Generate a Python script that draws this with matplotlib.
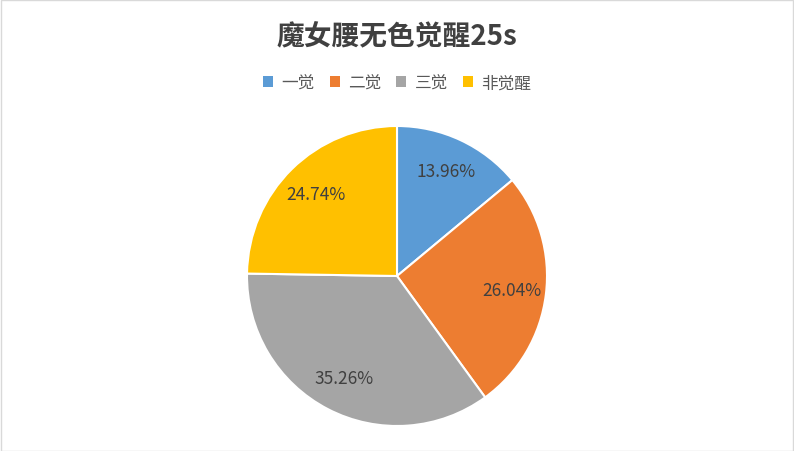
import matplotlib
matplotlib.use('Agg')
import matplotlib.pyplot as plt
from matplotlib.patches import Rectangle, Patch

plt.rcParams['font.family'] = ['Noto Sans CJK SC', 'DejaVu Sans']

title = '魔女腰无色觉醒25s'
labels = ['一觉', '二觉', '三觉', '非觉醒']
values = [13.96, 26.04, 35.26, 24.74]
colors = ['#5b9bd5', '#ed7d31', '#a5a5a5', '#ffc000']

W, H = 794, 452
fig = plt.figure(figsize=(W / 100, H / 100), dpi=100)

# chart border like Excel
fig.patches.append(Rectangle((0.5 / W, 0.5 / H), 1 - 1.5 / W, 1 - 1.5 / H,
                             transform=fig.transFigure, fill=False,
                             edgecolor='#d9d9d9', linewidth=1))

cx, cy, r = 397, 277, 150
ax = fig.add_axes([(cx - r) / W, 1 - (cy + r) / H, 2 * r / W, 2 * r / H])
wedges, texts, autotexts = ax.pie(values, colors=colors, startangle=90, counterclock=False,
                                  autopct=lambda p: f'{p:.2f}%', pctdistance=0.77,
                                  wedgeprops=dict(edgecolor='white', linewidth=1.5))
for t in autotexts:
    t.set_color('#404040')
    t.set_fontsize(12.5)
ax.set_xlim(-1, 1)
ax.set_ylim(-1, 1)
ax.set_aspect('equal')
ax.axis('off')

fig.text(0.5, 1 - 37 / H, title, ha='center', va='center', fontsize=20,
         fontweight='bold', color='#404040')

handles = [Patch(facecolor=c, edgecolor='none') for c in colors]
fig.legend(handles, labels, loc='center', bbox_to_anchor=(0.5, 1 - 84 / H), ncol=4,
           frameon=False, fontsize=12, handlelength=0.6, handleheight=0.6,
           handletextpad=0.5, columnspacing=0.9, labelcolor='#595959')

fig.savefig('out.png', dpi=100)
